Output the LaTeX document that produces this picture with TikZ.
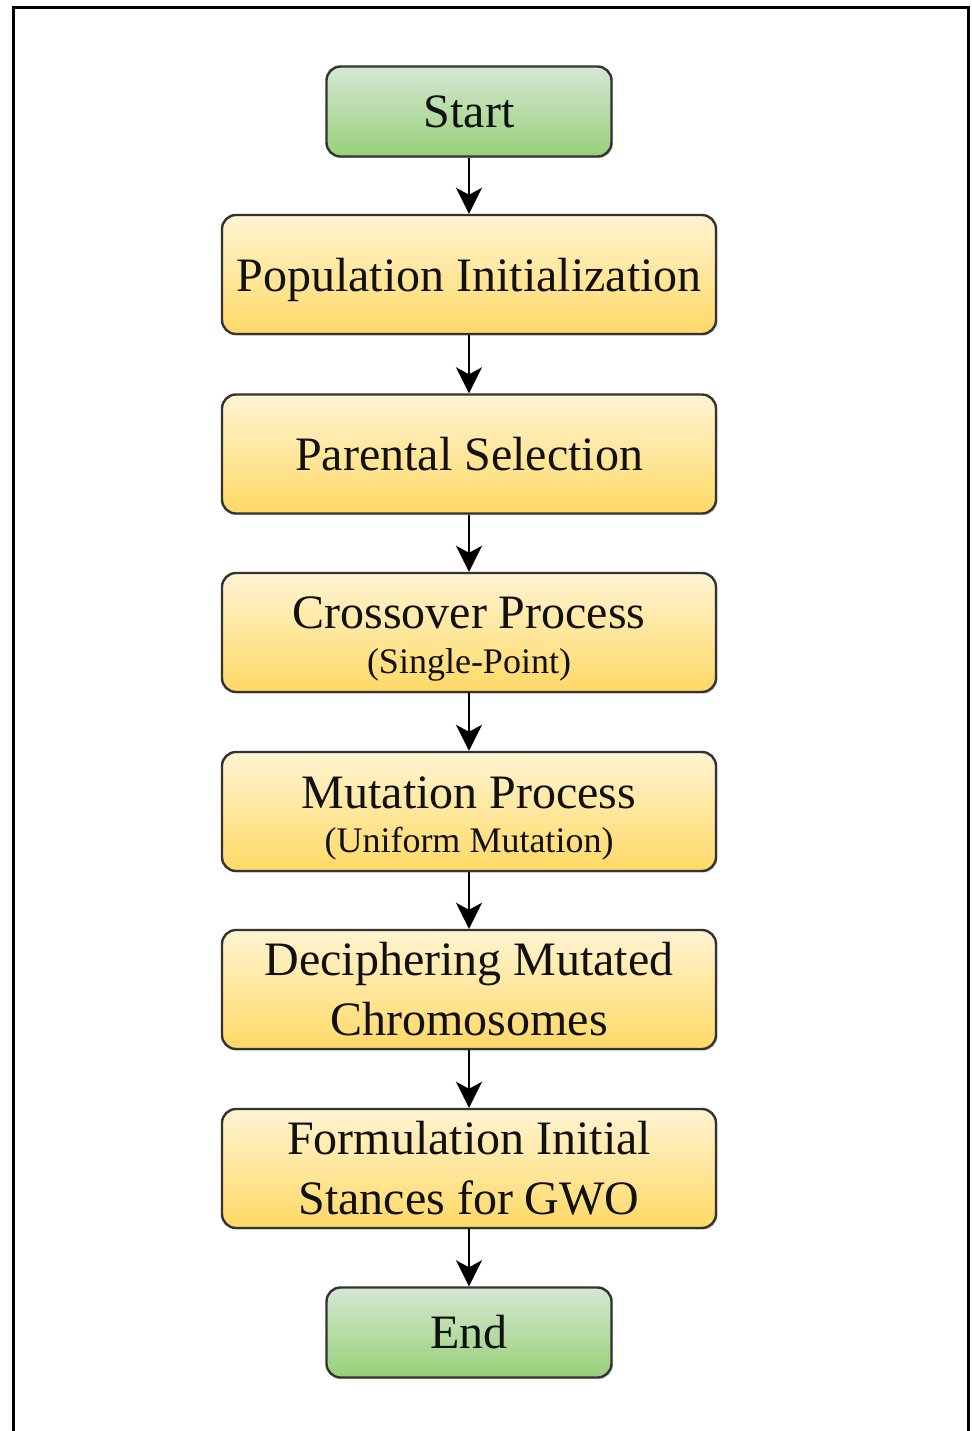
\documentclass[tikz,border=0pt]{standalone}
\usepackage{fontspec}
\setmainfont{Liberation Serif}
\usetikzlibrary{arrows.meta,shadows}
\definecolor{ytop}{HTML}{FFF4D2}
\definecolor{ybot}{HTML}{FFD966}
\definecolor{gtop}{HTML}{D5E8D4}
\definecolor{gbot}{HTML}{97D077}
\definecolor{edge}{HTML}{333333}
\definecolor{ink}{HTML}{111111}
\tikzset{
  basebox/.style={rectangle, rounded corners=7pt, draw=edge, line width=1.2pt,
    align=center, inner sep=0pt, text=ink, font=\fontsize{24}{30}\selectfont,
    drop shadow={shadow xshift=0.8pt, shadow yshift=-0.8pt, opacity=0.35}},
  termbox/.style={basebox, minimum width=142.5pt, minimum height=45pt,
    top color=gtop, bottom color=gbot},
  procbox/.style={basebox, minimum width=247pt, minimum height=59.5pt,
    top color=ytop, bottom color=ybot},
  maintxt/.style={anchor=base, inner sep=0pt, text=ink, font=\fontsize{24}{30}\selectfont},
  subtxt/.style={anchor=base, inner sep=0pt, text=ink, font=\fontsize{18}{22}\selectfont},
  flow/.style={draw=black, line width=1.3pt, -{Stealth[length=13pt,width=13pt,inset=3.5pt]}}
}
\begin{document}
\begin{tikzpicture}[x=0.5pt,y=-0.5pt]
\useasboundingbox (0,0) rectangle (971,1431);
\draw[line width=1.5pt] (13,1431) -- (13,7) -- (968,7) -- (968,1431);
\node[termbox] (start) at (469,111.5) {Start};
\node[procbox, text depth=0pt] (pop) at (469,274.5) {Population Initialization};
\node[procbox] (par) at (469,454) {Parental Selection};
\node[procbox] (cro) at (469,632.5) {};
\node[maintxt] (cro1) at (469,628) {Crossover Process};
\node[subtxt] (cro2) at (469,673) {(Single-Point)};
\node[procbox] (mut) at (469,811.5) {};
\node[maintxt] (mut1) at (469,808) {Mutation Process};
\node[subtxt] (mut2) at (469,852) {(Uniform Mutation)};
\node[procbox] (dec) at (469,989.5) {Deciphering Mutated\\Chromosomes};
\node[procbox] (for) at (469,1168.5) {Formulation Initial\\Stances for GWO};
\node[termbox] (end) at (469,1332.5) {End};
\draw[flow] (start) -- (pop);
\draw[flow] (pop) -- (par);
\draw[flow] (par) -- (cro);
\draw[flow] (cro) -- (mut);
\draw[flow] (mut) -- (dec);
\draw[flow] (dec) -- (for);
\draw[flow] (for) -- (end);
\end{tikzpicture}
\end{document}
